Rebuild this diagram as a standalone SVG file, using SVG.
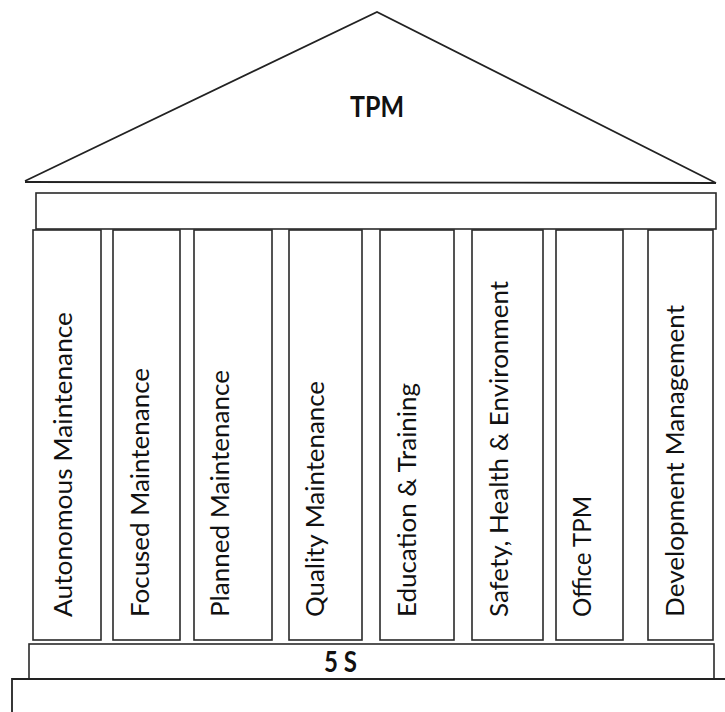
<svg xmlns="http://www.w3.org/2000/svg" width="725" height="712" viewBox="0 0 725 712">
<style>
.ln{fill:none;stroke:#222;stroke-width:1.8;}
.box{fill:#fff;stroke:#2a2a2a;stroke-width:1.6;}
.lbl{font-family:Lato,"Open Sans","Liberation Sans",sans-serif;font-size:25.5px;fill:#111;}
.ttl{font-family:Lato,"Open Sans","Liberation Sans",sans-serif;font-size:28px;font-weight:bold;fill:#111;}
</style>
<rect width="725" height="712" fill="#fff"/>
<g id="roof">
<polyline class="ln" points="25,181 377,12 716,183"/>
<line class="ln" x1="25" y1="182" x2="716" y2="183" stroke-width="2.2"/>
<text class="ttl" x="377" y="117" text-anchor="middle" textLength="54" lengthAdjust="spacingAndGlyphs">TPM</text>
</g>
<g id="beam"><rect class="box" x="36" y="193" width="680" height="36"/></g>
<g id="pillar-autonomous"><rect class="box" x="33" y="230" width="68" height="410"/>
<text class="lbl" transform="translate(72,617) rotate(-90)" textLength="305" lengthAdjust="spacingAndGlyphs">Autonomous Maintenance</text></g>
<g id="pillar-focused"><rect class="box" x="113" y="230" width="67" height="410"/>
<text class="lbl" transform="translate(149,617) rotate(-90)" textLength="249" lengthAdjust="spacingAndGlyphs">Focused Maintenance</text></g>
<g id="pillar-planned"><rect class="box" x="194" y="230" width="78" height="410"/>
<text class="lbl" transform="translate(229,617) rotate(-90)" textLength="247" lengthAdjust="spacingAndGlyphs">Planned Maintenance</text></g>
<g id="pillar-quality"><rect class="box" x="289" y="230" width="73" height="410"/>
<text class="lbl" transform="translate(324,617) rotate(-90)" textLength="236" lengthAdjust="spacingAndGlyphs">Quality Maintenance</text></g>
<g id="pillar-education"><rect class="box" x="380" y="230" width="74" height="410"/>
<text class="lbl" transform="translate(416,617) rotate(-90)" textLength="234" lengthAdjust="spacingAndGlyphs">Education &amp; Training</text></g>
<g id="pillar-safety"><rect class="box" x="472" y="230" width="71" height="410"/>
<text class="lbl" transform="translate(508,617) rotate(-90)" textLength="336" lengthAdjust="spacingAndGlyphs">Safety, Health &amp; Environment</text></g>
<g id="pillar-office"><rect class="box" x="556" y="230" width="67" height="410"/>
<text class="lbl" transform="translate(591,617) rotate(-90)" textLength="121" lengthAdjust="spacingAndGlyphs">Office TPM</text></g>
<g id="pillar-development"><rect class="box" x="648" y="230" width="65" height="410"/>
<text class="lbl" transform="translate(684,617) rotate(-90)" textLength="312" lengthAdjust="spacingAndGlyphs">Development Management</text></g>
<g id="five-s"><rect class="box" x="29" y="644" width="685" height="35"/>
<text class="ttl" x="340.5" y="671.5" text-anchor="middle" font-size="26" textLength="33" lengthAdjust="spacingAndGlyphs">5 S</text></g>
<g id="base"><polyline class="ln" points="12,712 12,679 725,679"/></g>
<g id="connectors"></g>
</svg>
